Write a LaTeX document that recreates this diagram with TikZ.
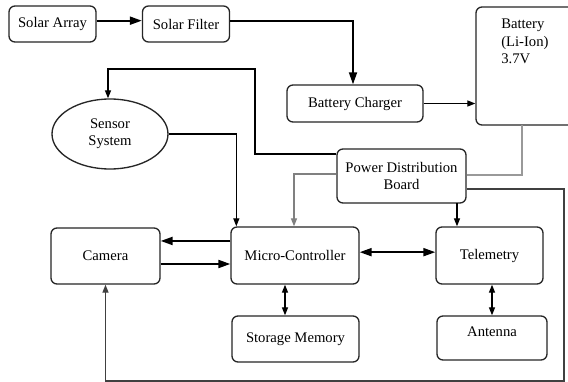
\documentclass[tikz,border=0pt]{standalone}
\usepackage{fontspec}
\setmainfont{Liberation Serif}
\newfontfamily\diagfont{Liberation Serif}
\usetikzlibrary{arrows.meta,shapes.geometric}
\begin{document}
\begin{tikzpicture}[x=0.75pt,y=-0.75pt,
  font=\diagfont\fontsize{11}{13}\selectfont,
  blk/.style={draw=black!85, line width=1pt, rounded corners=4.5pt, align=center, inner sep=0pt},
  thinarr/.style={line width=0.95pt, -{Triangle[length=6pt,width=4.5pt]}},
  thickarr/.style={line width=1.5pt, -{Triangle[length=9pt,width=6pt]}},
  dblthin/.style={line width=0.95pt, {Triangle[length=6pt,width=4.5pt]}-{Triangle[length=6pt,width=4.5pt]}},
  dblthick/.style={line width=1.5pt, {Triangle[length=9pt,width=6pt]}-{Triangle[length=9pt,width=6pt]}},
  plain/.style={line width=0.95pt}
]
\useasboundingbox (0,0) rectangle (568,382);
\clip (0,0) rectangle (568,382);
\fill[white] (0,0) rectangle (568,382);

\node[blk, minimum width=65.25pt, minimum height=27pt] (sa) at (52.5,24) {Solar Array};
\node[blk, minimum width=65.25pt, minimum height=27pt] (sf) at (186,24) {Solar Filter};
\node[blk, minimum width=102pt, minimum height=27.75pt] (bc) at (355,103.5) {Battery Charger};
\node[blk, minimum width=85.5pt, minimum height=88.5pt] (batt) at (533,66) {};
\node[anchor=north west, align=left, inner sep=0pt] (batttxt) at (501,19) {Battery\\(Li-Ion)\\3.7V};
\node[blk, minimum width=96.75pt, minimum height=40.5pt] (pdb) at (401.5,176) {Power Distribution\\Board};
\node[draw=black!85, line width=1pt, ellipse, minimum width=87pt, minimum height=52.5pt, inner sep=0pt, align=center] (sensor) at (110,134) {Sensor\\System};
\node[blk, minimum width=81.75pt, minimum height=42pt] (cam) at (105.5,256) {Camera};
\node[blk, minimum width=96pt, minimum height=42.75pt] (mc) at (295,255.5) {Micro-Controller};
\node[blk, minimum width=80.25pt, minimum height=42.75pt] (tel) at (489.5,255.5) {Telemetry};
\node[blk, minimum width=95.25pt, minimum height=34.5pt] (sto) at (295.5,339) {Storage Memory};
\node[blk, minimum width=82.5pt, minimum height=33pt, text depth=9pt] (ant) at (492,338) {Antenna};

\coordinate (bt) at (522,125);
\coordinate (c1) at (255,69);
\coordinate (c2) at (564,381);
\coordinate (ps) at (457,203);

\draw[thickarr] ([yshift=2.5pt]sa.east) -- ([yshift=2.5pt]sf.west);
\draw[line width=1.3pt, -{Triangle[length=9pt,width=6pt]}] ([yshift=2.5pt]sf.east) -| ([xshift=-1.5pt]bc.north);
\draw[thinarr] (bc.east) -- (bc.east -| batt.west);
\draw[plain, draw=black!40] (bt) |- ([yshift=0.75pt]pdb.east);
\draw[thinarr] ([yshift=16.5pt]pdb.west) -| (c1) -| ([xshift=-1.5pt]sensor.north);
\draw[thinarr, draw=black!50] ([yshift=1.5pt]pdb.west) -| ([xshift=-0.75pt]mc.north);
\draw[thinarr] (sensor.east) -| ([xshift=4.5pt]mc.north west);
\draw[thinarr, draw=black!75] ([yshift=-9.75pt]pdb.east) -| (c2) -| (cam.south);
\draw[thinarr] (ps) -- (ps |- tel.north);
\draw[thickarr] ([yshift=10.9pt]mc.west) -- ([yshift=10.9pt]mc.west -| cam.east);
\draw[thickarr] ([yshift=-6pt]cam.east) -- ([yshift=-6pt]cam.east -| mc.west);
\draw[dblthick] ([yshift=2.5pt]mc.east) -- ([yshift=2.5pt]tel.west);
\draw[dblthin] ([xshift=-7.5pt]mc.south) -- ([xshift=-7.5pt]mc.south |- sto.north);
\draw[dblthin] (tel.south -| ant.north) -- (ant.north);
\end{tikzpicture}
\end{document}
